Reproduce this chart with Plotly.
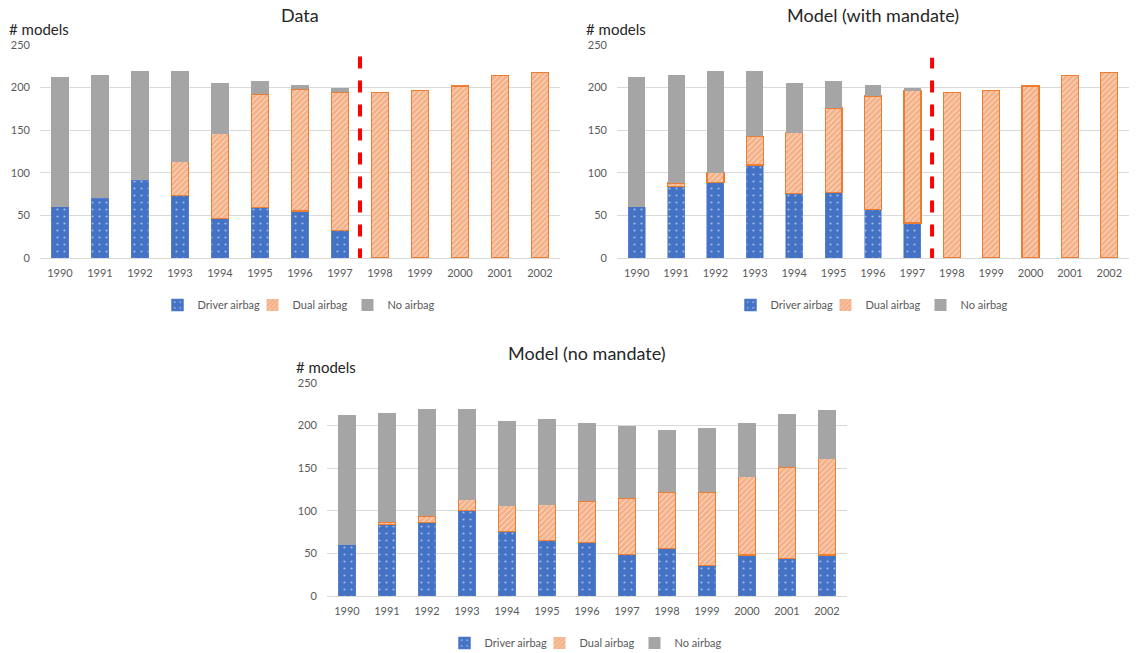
import plotly.graph_objects as go

# Model years on the category axis
years = [str(y) for y in range(1990, 2003)]
mandate_year = "1998"

# Observed counts of car models by airbag type
data_driver = [60, 70, 91, 73, 46, 59, 55, 32, 0, 0, 0, 0, 0]
data_dual = [0, 0, 0, 40, 100, 133, 143, 163, 194, 197, 202, 214, 218]
data_none = [152, 145, 129, 107, 59, 16, 5, 4, 0, 0, 0, 0, 0]

# Simulated counts with the dual-airbag mandate
mand_driver = [60, 84, 89, 109, 76, 77, 57, 41, 0, 0, 0, 0, 0]
mand_dual = [0, 4, 11, 34, 71, 99, 133, 156, 194, 197, 202, 214, 218]
mand_none = [152, 127, 120, 77, 58, 32, 13, 2, 0, 0, 0, 0, 0]

# Simulated counts without the mandate
nm_driver = [60, 84, 86, 100, 76, 65, 63, 49, 56, 36, 48, 44, 48]
nm_dual = [0, 3, 8, 13, 30, 42, 48, 66, 66, 86, 92, 107, 113]
nm_none = [152, 128, 126, 107, 99, 101, 92, 84, 73, 75, 63, 63, 57]

W, H = 1139, 653

panels = [
    dict(title="Data", driver=data_driver, dual=data_dual, none=data_none,
         xpx=(40, 560), ypx=(258, 45), mandate=True, line_top=241),
    dict(title="Model (with mandate)", driver=mand_driver, dual=mand_dual, none=mand_none,
         xpx=(617, 1129), ypx=(258, 45), mandate=True, line_top=235),
    dict(title="Model (no mandate)", driver=nm_driver, dual=nm_dual, none=nm_none,
         xpx=(327, 847), ypx=(596, 383), mandate=False, line_top=0),
]

BLUE = "#4472C4"
ORANGE = "#ED7D31"
GRAY = "#A5A5A5"
FONT = "Lato"
TICK_COLOR = "#595959"
TEXT_COLOR = "#262626"


def px_x(v):
    return v / W


def px_y(v):
    return 1 - v / H


def outline(vals, width):
    # no outline on empty segments
    return [width if v else 0 for v in vals]


fig = go.Figure()
layout = dict(
    width=W, height=H,
    margin=dict(l=0, r=0, t=0, b=0, autoexpand=False),
    paper_bgcolor="white", plot_bgcolor="white",
    barmode="stack",
    bargap=0.57,
    font=dict(family=FONT, color=TICK_COLOR, size=11),
    showlegend=True,
)
annotations = []
shapes = []

for i, p in enumerate(panels):
    n = "" if i == 0 else str(i + 1)
    xa, ya = "x" + n, "y" + n
    leg = "legend" + n
    series = [
        ("Driver airbag", p["driver"],
         dict(color=BLUE, line=dict(color="#5B86D1", width=outline(p["driver"], 0.6)),
              pattern=dict(shape=".", fgcolor="white", bgcolor=BLUE, size=7, solidity=0.08))),
        ("Dual airbag", p["dual"],
         dict(color=ORANGE, line=dict(color=ORANGE, width=outline(p["dual"], 1.3)),
              pattern=dict(shape="/", fgcolor="#EC7228", bgcolor="#FDF1E8", size=4, solidity=0.85))),
        ("No airbag", p["none"],
         dict(color=GRAY, line=dict(color=GRAY, width=0))),
    ]
    for name, vals, marker in series:
        fig.add_trace(go.Bar(
            x=years, y=vals, name=name, marker=marker,
            xaxis=xa, yaxis=ya, legend=leg, hoverinfo="x+y+name",
        ))

    x0, x1 = px_x(p["xpx"][0]), px_x(p["xpx"][1])
    y0, y1 = px_y(p["ypx"][0]), px_y(p["ypx"][1])
    layout["xaxis" + n] = dict(
        domain=[x0, x1], anchor=ya, type="category",
        showgrid=False, showline=True, linecolor="#D9D9D9", linewidth=1,
        ticks="", ticklabelstandoff=5,
        tickfont=dict(family=FONT, size=11, color=TICK_COLOR),
        fixedrange=True, automargin=False,
    )
    layout["yaxis" + n] = dict(
        domain=[y0, y1], anchor=xa, range=[0, 250], dtick=50,
        showgrid=True, gridcolor="#D9D9D9", gridwidth=1,
        zeroline=False, showline=False, ticks="",
        tickfont=dict(family=FONT, size=11, color=TICK_COLOR),
        ticklabelstandoff=9,
        fixedrange=True, automargin=False,
    )

    xc = (x0 + x1) / 2
    layout[leg] = dict(
        orientation="h", x=xc, xanchor="center",
        yref="container", y=px_y(p["ypx"][0] + 47), yanchor="middle",
        font=dict(family=FONT, size=11, color=TICK_COLOR),
        bgcolor="rgba(0,0,0,0)", traceorder="normal",
        itemwidth=30, entrywidthmode="pixels", entrywidth=50,
    )
    # Panel title
    annotations.append(dict(
        text=p["title"], xref="paper", yref="paper",
        x=xc, y=px_y(p["ypx"][1] - 30), xanchor="center", yanchor="middle",
        showarrow=False, font=dict(family=FONT, size=18, color=TEXT_COLOR),
    ))
    # Y-axis caption
    annotations.append(dict(
        text="# models", xref="paper", yref="paper",
        x=px_x(p["xpx"][0] - 33), y=px_y(p["ypx"][1] - 16),
        xanchor="left", yanchor="middle",
        showarrow=False, font=dict(family=FONT, size=15, color=TEXT_COLOR),
    ))
    # Dashed marker separating pre- and post-mandate years
    if p["mandate"]:
        xm = years.index(mandate_year) - 0.5
        shapes.append(dict(
            type="line", xref=xa, yref=ya,
            x0=xm, x1=xm, y0=-3, y1=p["line_top"],
            line=dict(color="#FF0000", width=4, dash="dash"),
        ))

layout["annotations"] = annotations
layout["shapes"] = shapes
fig.update_layout(**layout)

fig.write_html("out.html")
